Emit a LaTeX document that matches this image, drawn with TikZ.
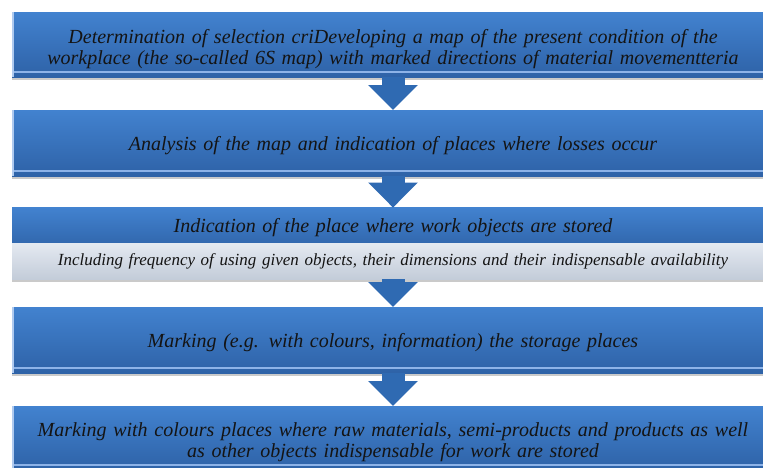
\documentclass[tikz,border=0pt]{standalone}
\usepackage{fontspec}
\setmainfont{Liberation Serif}
\usetikzlibrary{arrows.meta,positioning,shadows}
\definecolor{StepTop}{HTML}{4282CF}
\definecolor{StepBot}{HTML}{2E62A7}
\definecolor{Bevel}{HTML}{8DB3E8}
\definecolor{NoteTop}{HTML}{E4E9F1}
\definecolor{NoteBot}{HTML}{C3CCD9}
\definecolor{ArrowBlue}{HTML}{2F6AB2}
\definecolor{Ink}{HTML}{141414}
\tikzset{
  stepbox/.style={top color=StepTop,bottom color=StepBot,draw=none,minimum width=762pt,inner sep=0pt,
    text width=750pt,align=center,text=Ink,font=\fontsize{20}{21}\selectfont\itshape,
    drop shadow={shadow xshift=0pt,shadow yshift=-3pt,opacity=.35,fill=black!60},
    path picture={\fill[Bevel] ([yshift=4pt]path picture bounding box.south west) rectangle ([yshift=6.5pt]path picture bounding box.south east);
                  \fill[Bevel!70!white] (path picture bounding box.south west) rectangle ([xshift=2pt]path picture bounding box.north west);}},
  headbox/.style={top color=StepTop,bottom color=StepBot!80!StepTop,draw=none,minimum width=762pt,inner sep=0pt,
    text width=750pt,align=center,text=Ink,font=\fontsize{20}{21}\selectfont\itshape},
  notebox/.style={top color=NoteTop,bottom color=NoteBot,draw=none,minimum width=762pt,inner sep=0pt,
    text width=750pt,align=center,text=Ink,font=\fontsize{17}{19}\selectfont\itshape,
    drop shadow={shadow xshift=0pt,shadow yshift=-3pt,opacity=.35,fill=black!60}},
  oneline/.style={text depth=0pt},
  twolines/.style={text depth=17pt},
  flow/.style={draw=ArrowBlue,line width=23pt,-{Triangle[length=25pt,width=48pt,fill=ArrowBlue]}},
}

\begin{document}
\begin{tikzpicture}[x=1pt,y=1pt]
    \useasboundingbox (0,0) rectangle (763,-467);

    \node[stepbox,twolines,anchor=north,minimum height=65pt] (map) at (393,-12)
      {Determination of selection criDeveloping a map of the present condition of the\\
       workplace (the so-called 6S map) with marked directions of material movementteria};
    \node[stepbox,oneline,anchor=north,minimum height=66pt] (losses) at (393,-110)
      {Analysis of the map and indication of places where losses occur};
    \node[notebox,anchor=north,minimum height=36pt] (usage) at (393,-243)
      {Including frequency of using given objects, their dimensions and their indispensable availability};
    \node[headbox,oneline,anchor=south,minimum height=35pt] (stored) at (usage.north)
      {Indication of the place where work objects are stored};
    \node[stepbox,oneline,anchor=north,minimum height=66pt] (marking) at (393,-307)
      {Marking (e.g. with colours, information) the storage places};
    \node[stepbox,twolines,anchor=north,minimum height=64pt] (colours) at (393,-406)
      {Marking with colours places where raw materials, semi-products and products as well\\
       as other objects indispensable for work are stored};

    % arrows between the steps
    \draw[flow] (map.south) -- (losses.north);
    \draw[flow] (losses.south) -- (stored.north);
    \draw[flow] (usage.south) -- (marking.north);
    \draw[flow] (marking.south) -- (colours.north);
\end{tikzpicture}
\end{document}
